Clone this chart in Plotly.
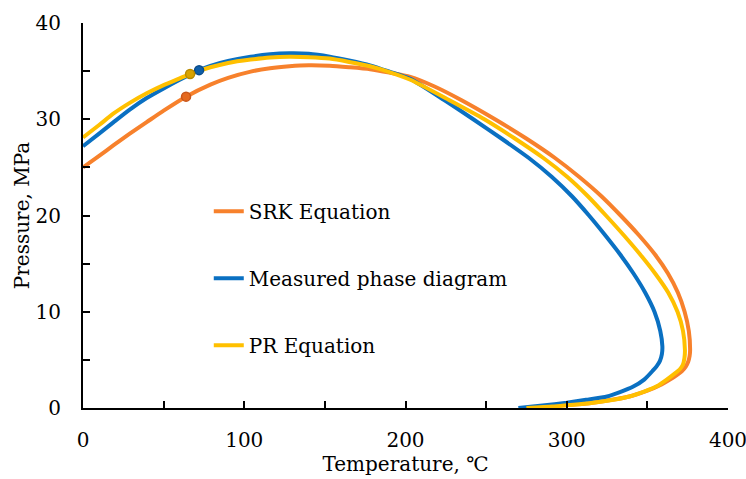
import plotly.graph_objects as go

# SRK Equation (orange)
srk_t = [0, 10, 19, 29, 39.5, 50, 63.9, 79, 90, 104, 116, 128, 140, 153, 165, 178, 190, 203, 218, 234.5, 255.5, 274.9, 292.5, 307.8, 321.5, 333.4, 344.5, 354.5, 362.7, 368.9, 373.1, 375.7, 376.5, 376.2, 375.3, 373.8, 371.5, 368, 364, 358.8, 350, 341, 330, 314, 300, 288, 275]
srk_p = [25.0, 26.2, 27.3, 28.5, 29.7, 30.9, 32.35, 33.6, 34.3, 34.95, 35.3, 35.5, 35.6, 35.55, 35.4, 35.2, 34.85, 34.4, 33.4, 32.0, 30.0, 28.0, 26.0, 24.0, 22.0, 20.0, 18.0, 16.0, 14.0, 12.0, 10.0, 8.0, 6.0, 5.4, 4.8, 4.3, 3.85, 3.4, 2.95, 2.45, 1.8, 1.3, 0.9, 0.5, 0.3, 0.15, 0.0]

# Measured phase diagram (blue)
meas_t = [0, 10, 19, 29, 39.5, 50, 60, 72, 79, 90, 104, 116, 128, 140, 153, 165, 178, 190, 203, 224, 242, 259.5, 276.3, 290.8, 303.2, 313.8, 323.6, 332.9, 341.3, 348.6, 354.4, 358, 359.3, 359.0, 357.8, 355.8, 353.2, 348, 341, 333, 325, 312, 300, 285, 270]
meas_p = [27.2, 28.5, 29.7, 31.0, 32.2, 33.2, 34.1, 35.1, 35.55, 36.05, 36.5, 36.75, 36.85, 36.8, 36.5, 36.1, 35.6, 34.95, 34.2, 32.0, 30.0, 28.0, 26.0, 24.0, 22.0, 20.0, 18.0, 16.0, 14.0, 12.0, 10.0, 8.0, 6.4, 5.6, 4.9, 4.35, 3.85, 2.95, 2.2, 1.65, 1.2, 0.85, 0.55, 0.25, 0.0]

# PR Equation (yellow)
pr_t = [0, 10, 19, 29, 39.5, 50, 60, 66.4, 79, 90, 104, 116, 128, 140, 153, 165, 178, 190, 203, 227, 248.9, 267.8, 285.3, 300.4, 313.1, 324.3, 335.1, 345.3, 354.7, 362.9, 368.7, 372.1, 373.3, 373.0, 372.0, 370.0, 367.1, 362, 355.8, 348, 339, 327, 314, 301, 291, 275]
pr_p = [28.1, 29.4, 30.6, 31.7, 32.7, 33.55, 34.25, 34.7, 35.4, 35.85, 36.2, 36.42, 36.5, 36.45, 36.3, 35.95, 35.5, 34.9, 34.1, 32.0, 30.0, 28.0, 26.0, 24.0, 22.0, 20.0, 18.0, 16.0, 14.0, 12.0, 10.0, 8.0, 6.0, 5.2, 4.5, 4.0, 3.6, 2.95, 2.25, 1.7, 1.2, 0.8, 0.5, 0.3, 0.15, 0.0]

# Critical points
crit_t = [63.9, 72, 66.4]
crit_p = [32.35, 35.1, 34.7]

names = ["SRK Equation", "Measured phase diagram", "PR Equation"]
colors = ["#F7812C", "#0A70C2", "#FFC000"]
marker_fill = ["#E5691E", "#0F5EA8", "#D9A300"]
marker_line = ["#C9561A", "#0B4C8A", "#B88A00"]

x_tickvals = [0, 50, 100, 150, 200, 250, 300, 350, 400]
x_ticktext = ["0", "", "100", "", "200", "", "300", "", "400"]
y_tickvals = [0, 5, 10, 15, 20, 25, 30, 35, 40]
y_ticktext = ["0", "", "10", "", "20", "", "30", "", "40"]

FONT = "DejaVu Serif"

fig = go.Figure()
series = [(srk_t, srk_p), (meas_t, meas_p), (pr_t, pr_p)]
for i, (t, p) in enumerate(series):
    fig.add_trace(go.Scatter(
        x=t, y=p, mode="lines", name=names[i],
        line=dict(color=colors[i], width=4, shape="spline", smoothing=0.6),
        legendgroup=names[i],
    ))
for i in range(3):
    fig.add_trace(go.Scatter(
        x=[crit_t[i]], y=[crit_p[i]], mode="markers", showlegend=False,
        marker=dict(size=9, color=marker_fill[i], line=dict(color=marker_line[i], width=1.5)),
        legendgroup=names[i],
    ))

fig.update_layout(
    width=746, height=479,
    margin=dict(l=83, r=18, t=23, b=71),
    paper_bgcolor="white", plot_bgcolor="white",
    font=dict(family=FONT, size=20, color="black"),
    showlegend=True,
    legend=dict(
        x=0.195, y=0.562, xanchor="left", yanchor="top",
        bgcolor="rgba(0,0,0,0)", tracegroupgap=38,
        font=dict(family=FONT, size=20, color="black"),
        itemwidth=30,
    ),
    xaxis=dict(
        range=[0, 400], showgrid=False, zeroline=False, automargin=False,
        showline=True, linecolor="black", linewidth=2,
        ticks="inside", ticklen=7, tickwidth=1.5, tickcolor="black",
        tickvals=x_tickvals, ticktext=x_ticktext,
        ticklabelstandoff=13, ticklabeloverflow="allow",
        title=dict(text="Temperature, ℃", standoff=2, font=dict(size=20)),
    ),
    yaxis=dict(
        range=[0, 40], showgrid=False, zeroline=False, automargin=False,
        showline=True, linecolor="black", linewidth=2,
        ticks="inside", ticklen=7, tickwidth=1.5, tickcolor="black",
        tickvals=y_tickvals, ticktext=y_ticktext,
        ticklabelstandoff=16, ticklabeloverflow="allow",
        title=dict(text="Pressure, MPa", standoff=1, font=dict(size=20)),
    ),
)

fig.write_html("out.html")
